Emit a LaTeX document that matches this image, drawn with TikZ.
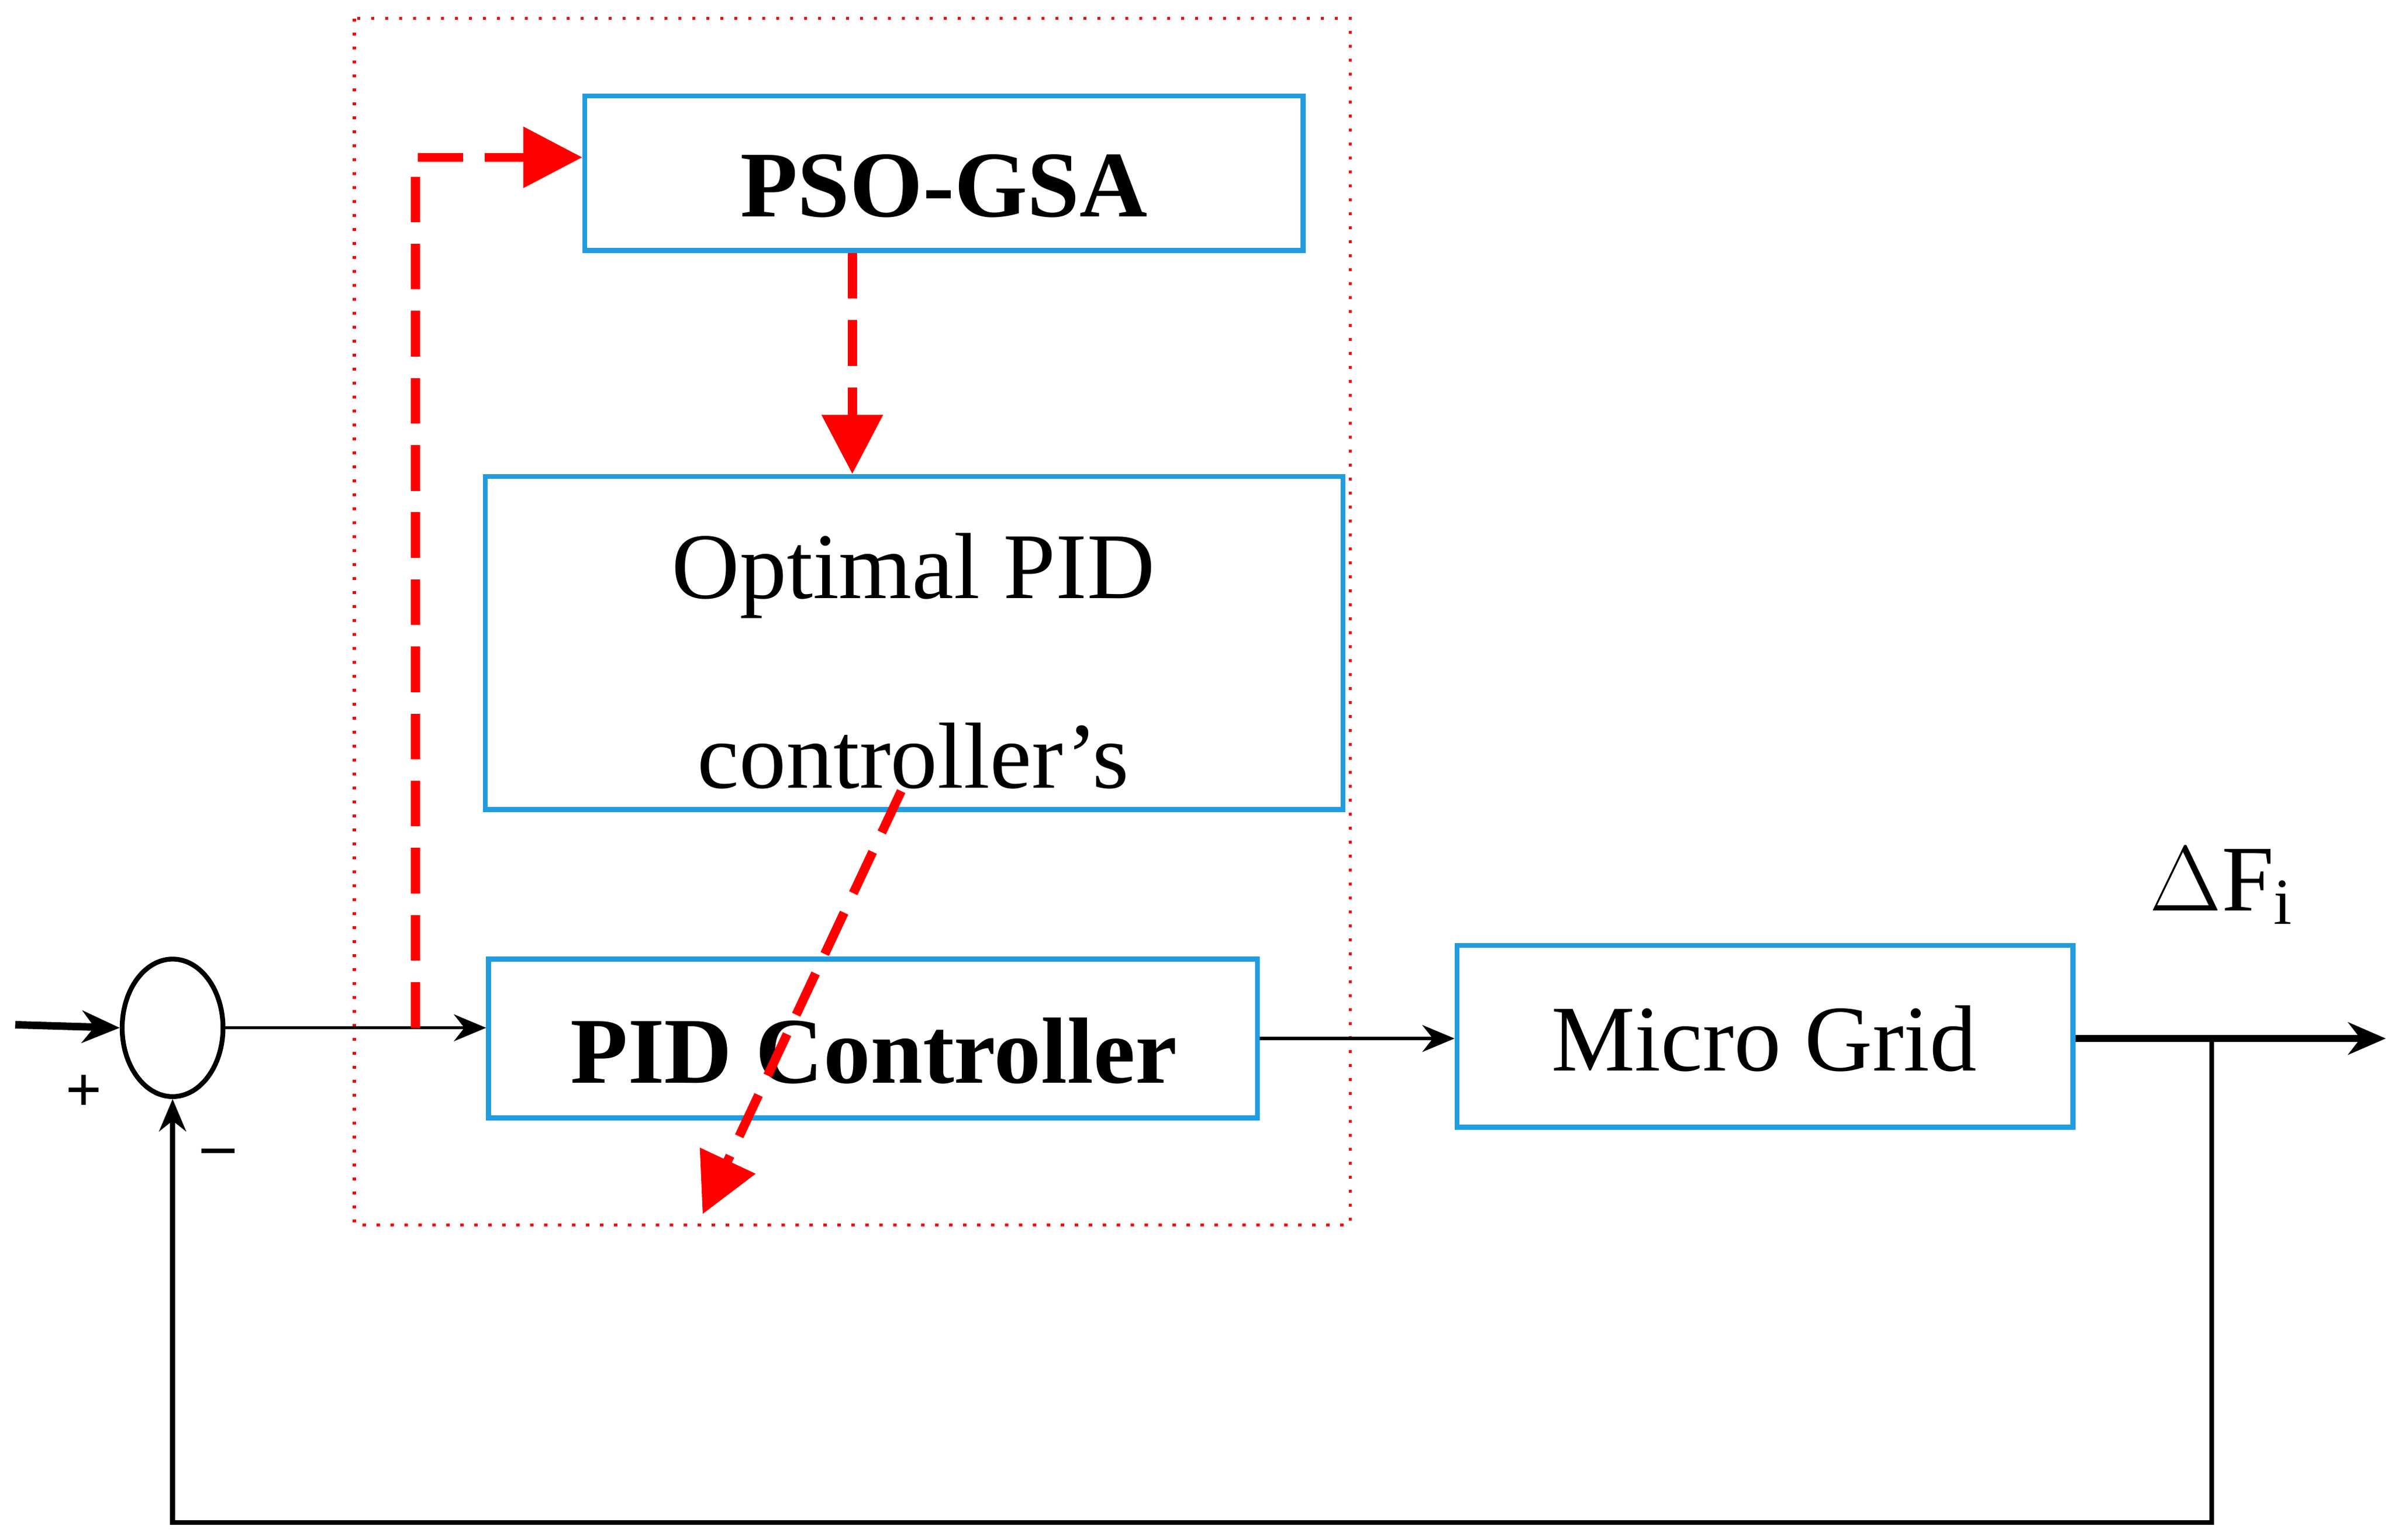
\documentclass[tikz,border=0pt]{standalone}
\usepackage{fontspec}
\setmainfont{Liberation Serif}
\usetikzlibrary{arrows.meta,shapes.geometric}
\begin{document}
\begin{tikzpicture}[x=0.01cm,y=-0.01cm,
  blk/.style={draw=cyan!80!blue!90!white, line width=0.9pt, inner sep=0pt},
  sig/.style={line width=0.6pt,-{Stealth[length=6pt,width=5pt]}},
  thk/.style={line width=1.4pt,-{Stealth[length=7pt,width=6pt]}},
  rd/.style={draw=red, line width=1.7pt, dash pattern=on 8.5pt off 4pt, -{Triangle[length=11pt,width=11pt]}},
  txt/.style={font=\fontsize{17.5}{20}\selectfont}]
\useasboundingbox (0,0) rectangle (1568,1008);
\draw[red, line width=0.6pt, dotted] (232,12) rectangle (884,802);
\node[blk, minimum width=4.7cm, minimum height=1.01cm] (pso) at (618,113.5) {};
\node[txt, font=\fontsize{17.5}{20}\selectfont\bfseries] (psot) at (618,122) {PSO-GSA};
\node[blk, minimum width=5.61cm, minimum height=2.18cm] (opt) at (598.5,421) {};
\node[txt] (opt1) at (598,377) {Optimal PID};
\node[txt] (opt2) at (598,495) {controller’s};
\node[blk, minimum width=5.03cm, minimum height=1.04cm] (pid) at (571.5,680) {};
\node[txt, font=\fontsize{17.5}{20}\selectfont\bfseries] (pidt) at (572,688) {PID Controller};
\node[blk, minimum width=4.03cm, minimum height=1.19cm] (mg) at (1155.5,678.5) {};
\node[txt] (mgt) at (1155,680) {Micro Grid};
\node[draw, line width=0.9pt, ellipse, minimum width=0.66cm, minimum height=0.9cm, inner sep=0pt] (sum) at (113,673) {};
\coordinate (in) at (10,671);
\coordinate (out) at (1562,680);
\coordinate (tap) at (1448,680);
\draw[thk] (in) -- (sum.west);
\draw[sig] (sum.east) -- (sum.east-|pid.west);
\draw[sig] (pid.east) -- (pid.east-|mg.west);
\draw[thk] (mg.east|-out) -- (out);
\draw[line width=0.9pt,-{Stealth[length=6pt,width=5pt]}] (tap) -- (1448,997) -- (113,997) -- (sum.south);
\node[font=\fontsize{12}{14}\selectfont\bfseries] (plus) at (55,716) {+};
\node[font=\fontsize{12}{14}\selectfont\bfseries] (minus) at (143,758) {--};
\node[txt] (df) at (1455,580) {$\Delta$F\textsubscript{i}};
\draw[rd] (272,673) -- (272,103) -- (pso.west|-272,103);
\draw[rd] (pso.south-|558,0) -- (opt.north-|558,0);
\draw[rd] (590,518) -- (460,795);
\end{tikzpicture}
\end{document}
